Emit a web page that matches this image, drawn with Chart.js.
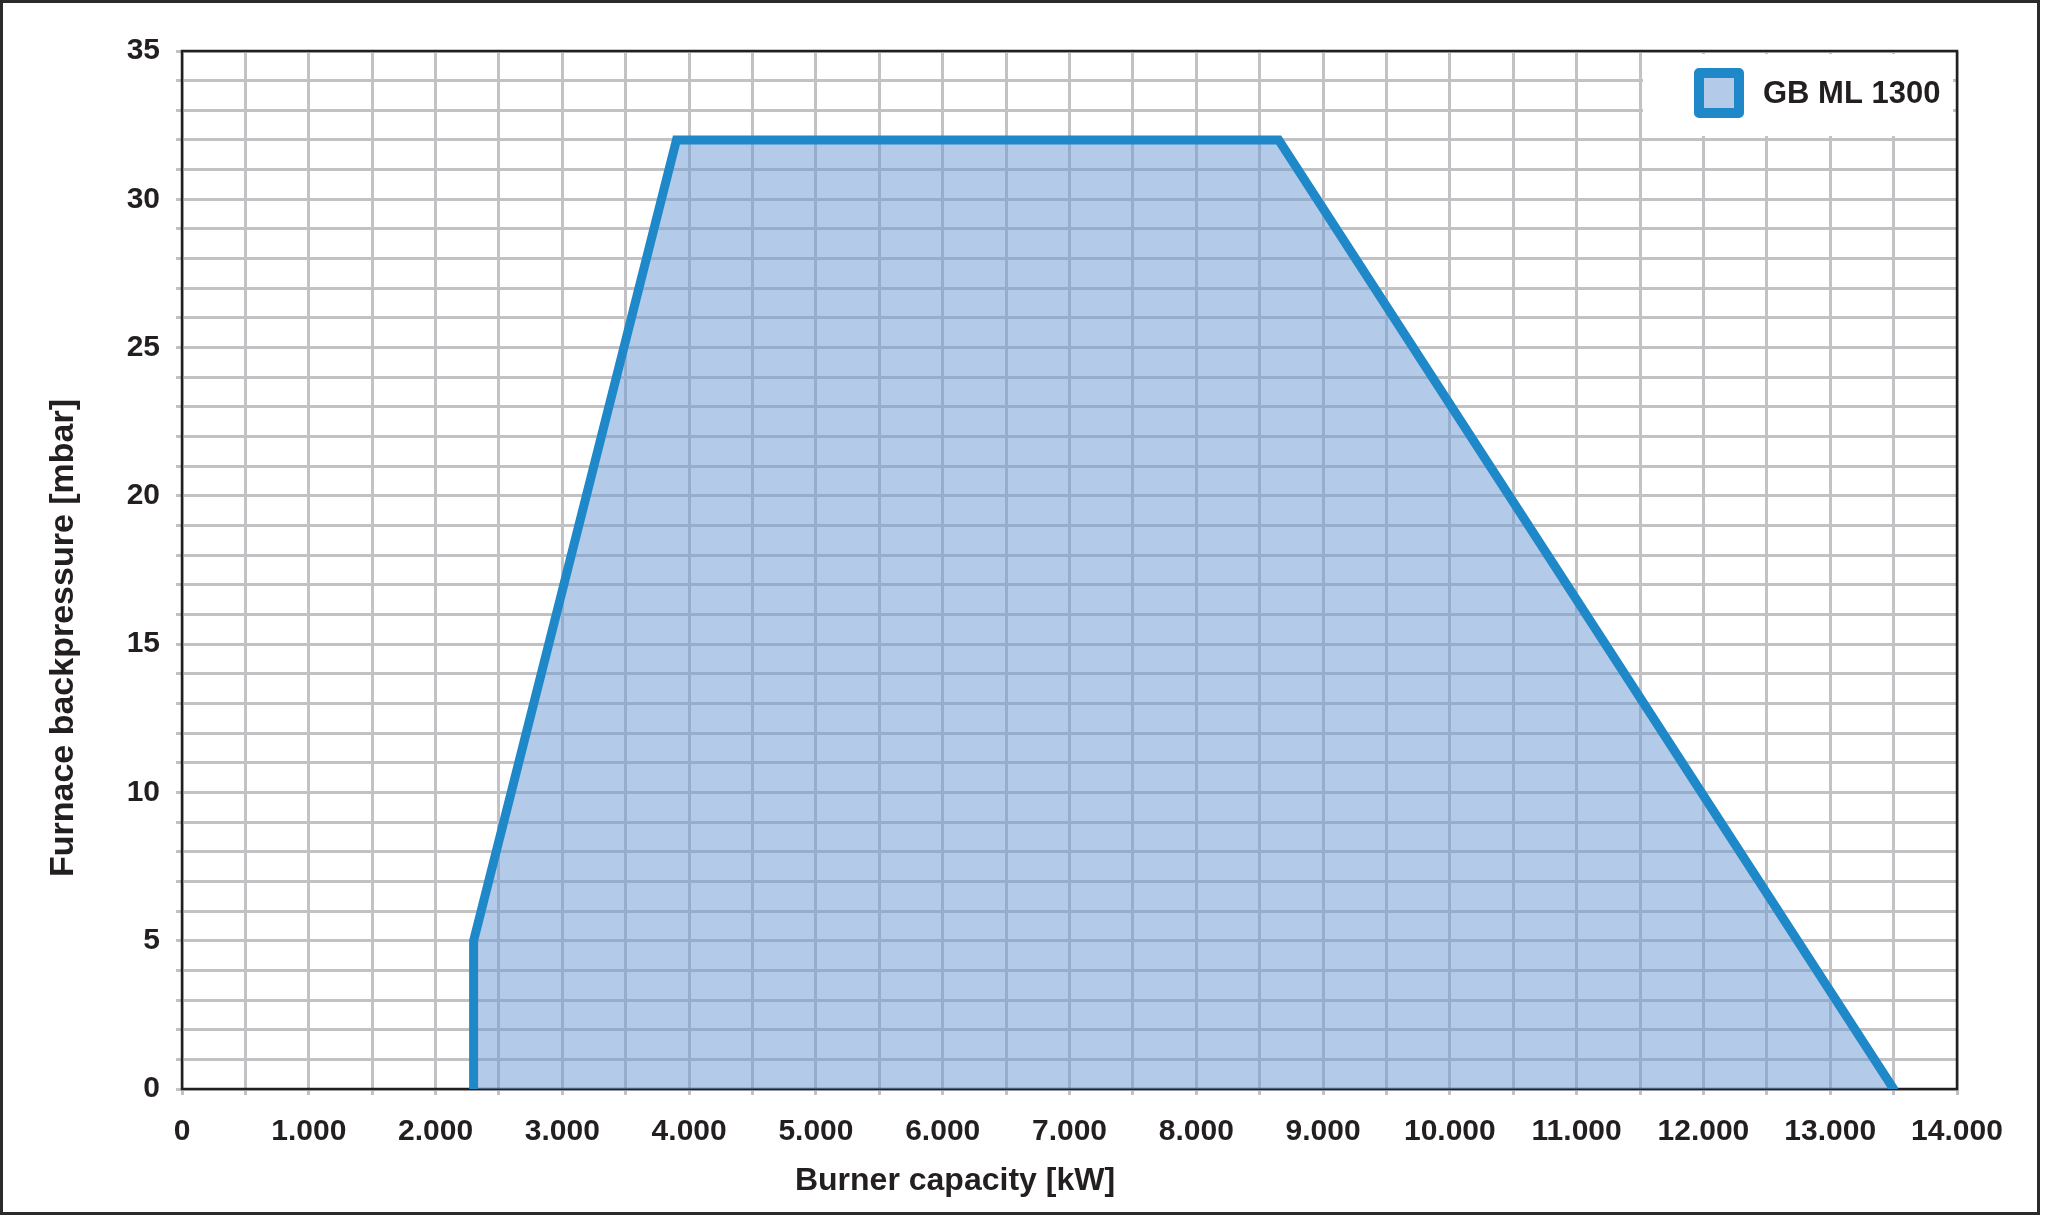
<!DOCTYPE html>
<html lang="en">
<head>
    <meta charset="UTF-8">
    <title>GB ML 1300</title>
    <script src="https://cdn.jsdelivr.net/npm/chart.js@4.4.1/dist/chart.umd.min.js"></script>
    <style>
        body { margin: 0; background: #fff; }
        #wrap { width: 2048px; height: 1216px; }
    </style>
</head>
<body>
    <div id="wrap"><canvas id="myChart" width="2048" height="1216"></canvas></div>
    <script>
        // working field of the burner
        var capacity = [2300, 2300, 3900, 8650, 13500];   // kW
        var backpressure = [0, 5, 32, 32, 0];               // mbar
        var seriesLabel = 'GB ML 1300';
        var xTitle = 'Burner capacity [kW]';
        var yTitle = 'Furnace backpressure [mbar]';
        var xLabels = [0, 1000, 2000, 3000, 4000, 5000, 6000, 7000, 8000, 9000, 10000, 11000, 12000, 13000, 14000];
        var yLabels = [0, 5, 10, 15, 20, 25, 30, 35];

        var textColor = '#231f20';
        var gridColor = '#c2c2c4';
        var fontFamily = "'Liberation Sans', Arial, sans-serif";

        function fmt(v) {
            return String(v).replace(/\B(?=(\d{3})+(?!\d))/g, '.');
        }

        var points = capacity.map(function (c, i) {
            return { x: c, y: backpressure[i] };
        });

        var extras = {
            id: 'extras',
            beforeDraw: function (chart) {
                var c = chart.ctx;
                c.save();
                c.fillStyle = '#fff';
                c.fillRect(0, 0, chart.width, chart.height);
                c.strokeStyle = '#2b2b2b';
                c.lineWidth = 3;
                c.strokeRect(1.5, 1.5, 2037, 1212);
                c.restore();
            },
            beforeDatasetsDraw: function (chart) {
                var a = chart.chartArea, c = chart.ctx;
                c.save();
                c.strokeStyle = textColor;
                c.lineWidth = 2.5;
                c.strokeRect(a.left, a.top, a.right - a.left, a.bottom - a.top);
                c.restore();
            },
            afterDatasetsDraw: function (chart) {
                var a = chart.chartArea, c = chart.ctx;
                var ds = chart.data.datasets[0];
                c.save();
                // legend
                c.fillStyle = '#fff';
                c.fillRect(a.right - 314, a.top + 3, 310, 82);
                c.fillStyle = ds.backgroundColor;
                c.fillRect(a.right - 258, a.top + 22, 40, 40);
                c.lineJoin = 'round';
                c.lineWidth = 10;
                c.strokeStyle = ds.borderColor;
                c.strokeRect(a.right - 258, a.top + 22, 40, 40);
                c.fillStyle = textColor;
                c.font = 'bold 31px ' + fontFamily;
                c.textAlign = 'left';
                c.textBaseline = 'middle';
                c.fillText(ds.label, a.right - 194, a.top + 43);

                // axis titles
                c.font = 'bold 32px ' + fontFamily;
                c.textAlign = 'center';
                c.fillText(xTitle, 955, 1181);
                c.translate(64, 638);
                c.rotate(-Math.PI / 2);
                c.font = 'bold 34px ' + fontFamily;
                c.fillText(yTitle, 0, 0);
                c.restore();
            }
        };

        var tickFont = { family: fontFamily, size: 30, weight: 'bold' };

        var myChart = new Chart(document.getElementById('myChart').getContext('2d'), {
            type: 'line',
            data: {
                datasets: [{
                    label: seriesLabel,
                    data: points,
                    borderColor: '#1e88c8',
                    backgroundColor: 'rgba(111,154,212,0.53)',
                    borderWidth: 9,
                    borderCapStyle: 'round',
                    borderJoinStyle: 'miter',
                    fill: 'origin',
                    pointRadius: 0,
                    tension: 0
                }]
            },
            options: {
                responsive: false,
                animation: false,
                layout: { padding: { top: 51, right: 91, left: 0, bottom: 0 } },
                plugins: {
                    legend: { display: false },
                    tooltip: { enabled: false }
                },
                scales: {
                    x: {
                        type: 'linear',
                        min: 0,
                        max: 14000,
                        afterFit: function (s) { s.height = 127; },
                        border: { display: false },
                        grid: { color: gridColor, lineWidth: 3, tickLength: 6 },
                        ticks: {
                            stepSize: 500,
                            autoSkip: false,
                            maxRotation: 0,
                            padding: 19,
                            color: textColor,
                            font: tickFont,
                            callback: function (v) {
                                return xLabels.indexOf(v) >= 0 ? fmt(v) : '';
                            }
                        }
                    },
                    y: {
                        min: 0,
                        max: 35,
                        afterFit: function (s) { s.width = 182; },
                        border: { display: false },
                        grid: { color: gridColor, lineWidth: 3, tickLength: 6 },
                        ticks: {
                            stepSize: 1,
                            autoSkip: false,
                            padding: 16,
                            color: textColor,
                            font: tickFont,
                            callback: function (v) {
                                return yLabels.indexOf(v) >= 0 ? String(v) : '';
                            }
                        }
                    }
                }
            },
            plugins: [extras]
        });
    </script>
</body>
</html>
